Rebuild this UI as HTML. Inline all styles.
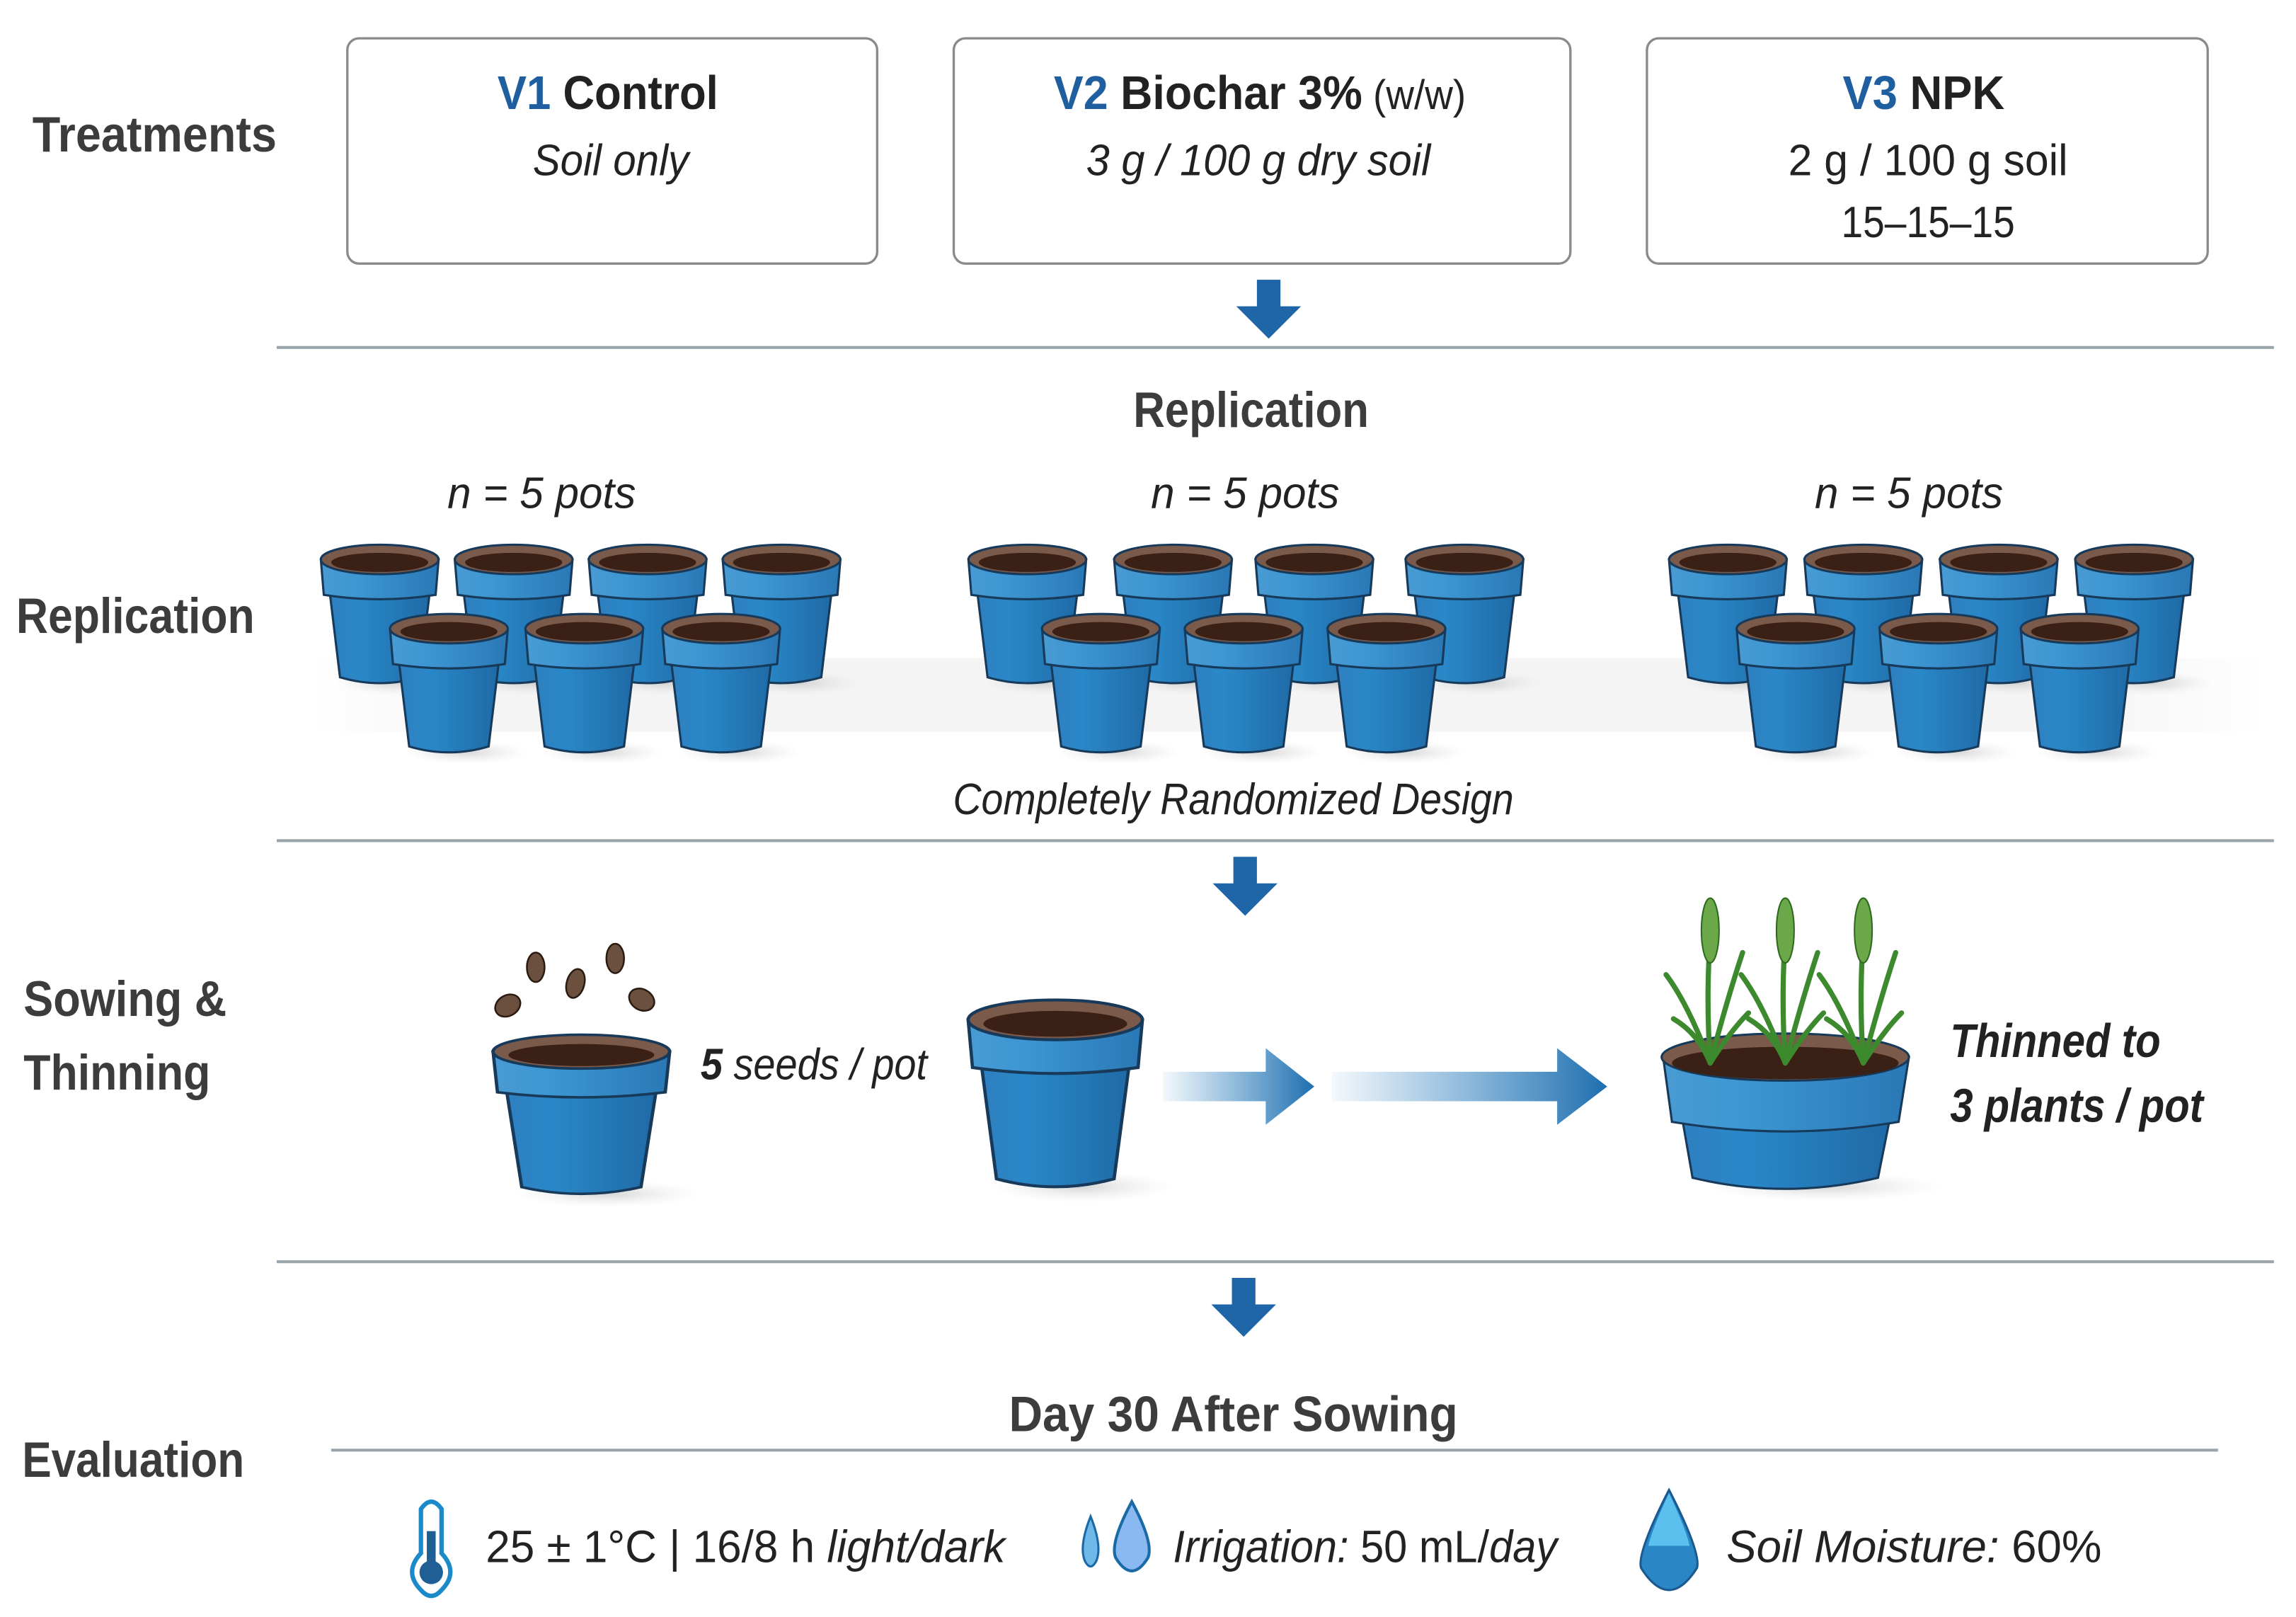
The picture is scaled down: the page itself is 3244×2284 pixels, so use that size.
<!DOCTYPE html>
<html><head><meta charset="utf-8"><style>
html,body{margin:0;padding:0;background:#fff;}
svg{display:block;}
text{font-family:"Liberation Sans Narrow","Liberation Sans",sans-serif;fill:#222;}
.h{font-size:34px;fill:#3c3c3c;font-weight:bold;}
.it{font-style:italic;}
</style></head><body>
<svg width="3244" height="2284" viewBox="0 0 1560 1098.3" xmlns="http://www.w3.org/2000/svg">
<defs>
<linearGradient id="pg" x1="0" x2="1">
<stop offset="0" stop-color="#2f7fbf"/><stop offset="0.3" stop-color="#2a88c8"/><stop offset="1" stop-color="#1f6aa6"/>
</linearGradient>
<linearGradient id="rg" x1="0" x2="1">
<stop offset="0" stop-color="#4a9ad2"/><stop offset="0.3" stop-color="#3d97d3"/><stop offset="1" stop-color="#2a78b6"/>
</linearGradient>
<linearGradient id="ha" x1="0" x2="1">
<stop offset="0" stop-color="#2a7fc0" stop-opacity="0.05"/><stop offset="1" stop-color="#1e6fb0"/>
</linearGradient>
<linearGradient id="band" x1="0" x2="1">
<stop offset="0" stop-color="#f4f4f4" stop-opacity="0"/><stop offset="0.1" stop-color="#f4f4f4"/><stop offset="0.9" stop-color="#f4f4f4"/><stop offset="1" stop-color="#f4f4f4" stop-opacity="0"/>
</linearGradient>
<radialGradient id="sh"><stop offset="0" stop-color="#bbb" stop-opacity="0.6"/><stop offset="1" stop-color="#ddd" stop-opacity="0"/></radialGradient>
<g id="pot">
<ellipse cx="12" cy="86" rx="42" ry="8" fill="url(#sh)"/>
<path d="M-34,24 L-27,82 Q0,90 27,82 L34,24 Z" fill="url(#pg)" stroke="#173a5a" stroke-width="1.5"/>
<path d="M-40,2 L-38,26 Q0,32 38,26 L40,2 Z" fill="url(#rg)" stroke="#173a5a" stroke-width="1.5"/>
<ellipse cx="0" cy="2" rx="40" ry="10" fill="#7a5a4a" stroke="#173a5a" stroke-width="1.5"/>
<ellipse cx="0" cy="4" rx="33" ry="6.5" fill="#3a2015"/>
</g>
<g id="dn"><path d="M-8,0 H8 V18 H22 L0,40 L-22,18 H-8 Z" fill="#1f66a8"/></g>
<g id="plant">
<g stroke="#3d8a2e" stroke-width="3.5" fill="none" stroke-linecap="round">
<path d="M0,0 Q-3,-45 0,-85"/><path d="M0,0 Q-15,-40 -30,-60"/><path d="M0,0 Q12,-45 22,-75"/><path d="M0,0 Q-8,-20 -25,-30"/><path d="M0,0 Q14,-22 26,-34"/>
</g>
<ellipse cx="0" cy="-90" rx="6" ry="22" fill="#6aa84a" stroke="#2f6a20" stroke-width="1"/>
</g>
</defs>

<text x="22" y="103" class="h" textLength="166" lengthAdjust="spacingAndGlyphs">Treatments</text>
<rect x="236" y="26" width="360" height="153" rx="8" fill="#fff" stroke="#8a8a8a" stroke-width="1.6"/>
<rect x="648" y="26" width="419" height="153" rx="8" fill="#fff" stroke="#8a8a8a" stroke-width="1.6"/>
<rect x="1119" y="26" width="381" height="153" rx="8" fill="#fff" stroke="#8a8a8a" stroke-width="1.6"/>
<text x="338" y="74" font-size="32" font-weight="bold" textLength="150" lengthAdjust="spacingAndGlyphs"><tspan fill="#1f5fa0">V1</tspan> Control</text>
<text x="415" y="119" font-size="30" class="it" text-anchor="middle" textLength="106" lengthAdjust="spacingAndGlyphs">Soil only</text>
<text x="716" y="74" font-size="32" font-weight="bold" textLength="280" lengthAdjust="spacingAndGlyphs"><tspan fill="#1f5fa0">V2</tspan> Biochar 3%<tspan font-weight="normal" font-size="28"> (w/w)</tspan></text>
<text x="855" y="119" font-size="30" class="it" text-anchor="middle" textLength="234" lengthAdjust="spacingAndGlyphs">3 g / 100 g dry soil</text>
<text x="1252" y="74" font-size="32" font-weight="bold" textLength="110" lengthAdjust="spacingAndGlyphs"><tspan fill="#1f5fa0">V3</tspan> NPK</text>
<text x="1310" y="119" font-size="30" text-anchor="middle" textLength="190" lengthAdjust="spacingAndGlyphs">2 g / 100 g soil</text>
<text x="1310" y="161" font-size="30" text-anchor="middle" textLength="118" lengthAdjust="spacingAndGlyphs">15–15–15</text>
<use href="#dn" x="862" y="190"/>
<line x1="188" y1="236" x2="1545" y2="236" stroke="#9aa4ab" stroke-width="2"/>

<text x="850" y="290" class="h" text-anchor="middle" textLength="160" lengthAdjust="spacingAndGlyphs">Replication</text>
<text x="11" y="430" class="h" textLength="162" lengthAdjust="spacingAndGlyphs">Replication</text>
<text x="368" y="345" font-size="30" class="it" text-anchor="middle" textLength="128" lengthAdjust="spacingAndGlyphs">n = 5 pots</text>
<text x="846" y="345" font-size="30" class="it" text-anchor="middle" textLength="128" lengthAdjust="spacingAndGlyphs">n = 5 pots</text>
<text x="1297" y="345" font-size="30" class="it" text-anchor="middle" textLength="128" lengthAdjust="spacingAndGlyphs">n = 5 pots</text>
<rect x="210" y="447" width="1330" height="50" fill="url(#band)"/>
<use href="#pot" x="258" y="378"/><use href="#pot" x="349" y="378"/><use href="#pot" x="440" y="378"/><use href="#pot" x="531" y="378"/>
<use href="#pot" x="305" y="425"/><use href="#pot" x="397" y="425"/><use href="#pot" x="490" y="425"/>
<use href="#pot" x="698" y="378"/><use href="#pot" x="797" y="378"/><use href="#pot" x="893" y="378"/><use href="#pot" x="995" y="378"/>
<use href="#pot" x="748" y="425"/><use href="#pot" x="845" y="425"/><use href="#pot" x="942" y="425"/>
<use href="#pot" x="1174" y="378"/><use href="#pot" x="1266" y="378"/><use href="#pot" x="1358" y="378"/><use href="#pot" x="1450" y="378"/>
<use href="#pot" x="1220" y="425"/><use href="#pot" x="1317" y="425"/><use href="#pot" x="1413" y="425"/>
<text x="838" y="553" font-size="30" class="it" text-anchor="middle" fill="#333" textLength="381" lengthAdjust="spacingAndGlyphs">Completely Randomized Design</text>
<line x1="188" y1="571" x2="1545" y2="571" stroke="#9aa4ab" stroke-width="2"/>
<use href="#dn" x="846" y="582"/>

<text x="16" y="690" class="h" textLength="138" lengthAdjust="spacingAndGlyphs">Sowing &amp;</text>
<text x="16" y="740" class="h" textLength="127" lengthAdjust="spacingAndGlyphs">Thinning</text>
<g fill="#6b5040" stroke="#2b1a10" stroke-width="1.2">
<ellipse cx="345" cy="683" rx="7" ry="9" transform="rotate(60 345 683)"/>
<ellipse cx="364" cy="657" rx="6" ry="10"/>
<ellipse cx="391" cy="668" rx="6" ry="10" transform="rotate(15 391 668)"/>
<ellipse cx="418" cy="651" rx="6" ry="10"/>
<ellipse cx="436" cy="679" rx="7" ry="9" transform="rotate(-60 436 679)"/>
</g>
<use href="#pot" transform="translate(395,712) scale(1.5,1.15)"/>
<text x="476" y="733" font-size="30" class="it" textLength="154" lengthAdjust="spacingAndGlyphs"><tspan font-weight="bold">5</tspan> seeds / pot</text>
<use href="#pot" transform="translate(717,690) scale(1.48,1.35)"/>
<path d="M790,728 H860 V712 L893,738 L860,764 V748 H790 Z" fill="url(#ha)"/>
<path d="M905,728 H1058 V712 L1092,738 L1058,764 V748 H905 Z" fill="url(#ha)"/>

<ellipse cx="1240" cy="806" rx="80" ry="10" fill="url(#sh)"/>
<path d="M1143,760 L1150,800 Q1213,815 1276,800 L1284,760 Z" fill="url(#pg)" stroke="#173a5a" stroke-width="1.5"/>
<path d="M1130,718 L1136,762 Q1213,775 1290,762 L1297,718 Z" fill="url(#rg)" stroke="#173a5a" stroke-width="1.5"/>
<ellipse cx="1213" cy="718" rx="84" ry="16" fill="#7a5a4a" stroke="#173a5a" stroke-width="1.5"/>
<ellipse cx="1213" cy="722" rx="77" ry="11" fill="#3a2015"/>
<use href="#plant" x="1162" y="722"/>
<use href="#plant" x="1213" y="722"/>
<use href="#plant" x="1266" y="722"/>
<text x="1325" y="718" font-size="32" class="it" font-weight="bold" textLength="143" lengthAdjust="spacingAndGlyphs">Thinned to</text>
<text x="1325" y="762" font-size="32" class="it" font-weight="bold" textLength="172" lengthAdjust="spacingAndGlyphs">3 plants / pot</text>
<line x1="188" y1="857" x2="1545" y2="857" stroke="#9aa4ab" stroke-width="2"/>
<use href="#dn" x="845" y="868"/>

<text x="838" y="972" class="h" text-anchor="middle" textLength="305" lengthAdjust="spacingAndGlyphs">Day 30 After Sowing</text>
<text x="15" y="1003" class="h" textLength="151" lengthAdjust="spacingAndGlyphs">Evaluation</text>
<line x1="225" y1="985" x2="1507" y2="985" stroke="#9aa4ab" stroke-width="2"/>
<path d="M286,1025 Q293,1015 300,1025 V1055 Q312,1068 300,1080 Q293,1088 286,1080 Q274,1068 286,1055 Z" fill="#fff" stroke="#1a8ac8" stroke-width="3"/>
<circle cx="293" cy="1068" r="8" fill="#1f5f95"/><rect x="290" y="1040" width="6" height="25" fill="#1f5f95"/>
<text x="330" y="1061" font-size="31" textLength="353" lengthAdjust="spacingAndGlyphs">25 ± 1°C | 16/8 h <tspan class="it">light/dark</tspan></text>
<path d="M741,1030 Q733,1050 737,1060 Q741,1068 745,1060 Q749,1050 741,1030 Z" fill="#6fb8e8" stroke="#1a6aa8" stroke-width="1.5"/>
<path d="M769,1020 Q754,1048 758,1058 Q769,1076 780,1058 Q784,1048 769,1020 Z" fill="#8ab8f0" stroke="#1a6aa8" stroke-width="2"/>
<text x="797" y="1061" font-size="31" textLength="261" lengthAdjust="spacingAndGlyphs"><tspan class="it">Irrigation:</tspan> 50 mL/<tspan class="it">day</tspan></text>
<path d="M1134,1012 Q1112,1055 1115,1065 Q1134,1095 1153,1065 Q1156,1055 1134,1012 Z" fill="#2a86c4" stroke="#1a5a90" stroke-width="1.5"/>
<path d="M1134,1014 Q1122,1040 1120,1050 H1148 Q1146,1040 1134,1014 Z" fill="#5cc0ee"/>
<text x="1173" y="1061" font-size="31" textLength="255" lengthAdjust="spacingAndGlyphs"><tspan class="it">Soil Moisture:</tspan> 60%</text>
</svg>
</body></html>
